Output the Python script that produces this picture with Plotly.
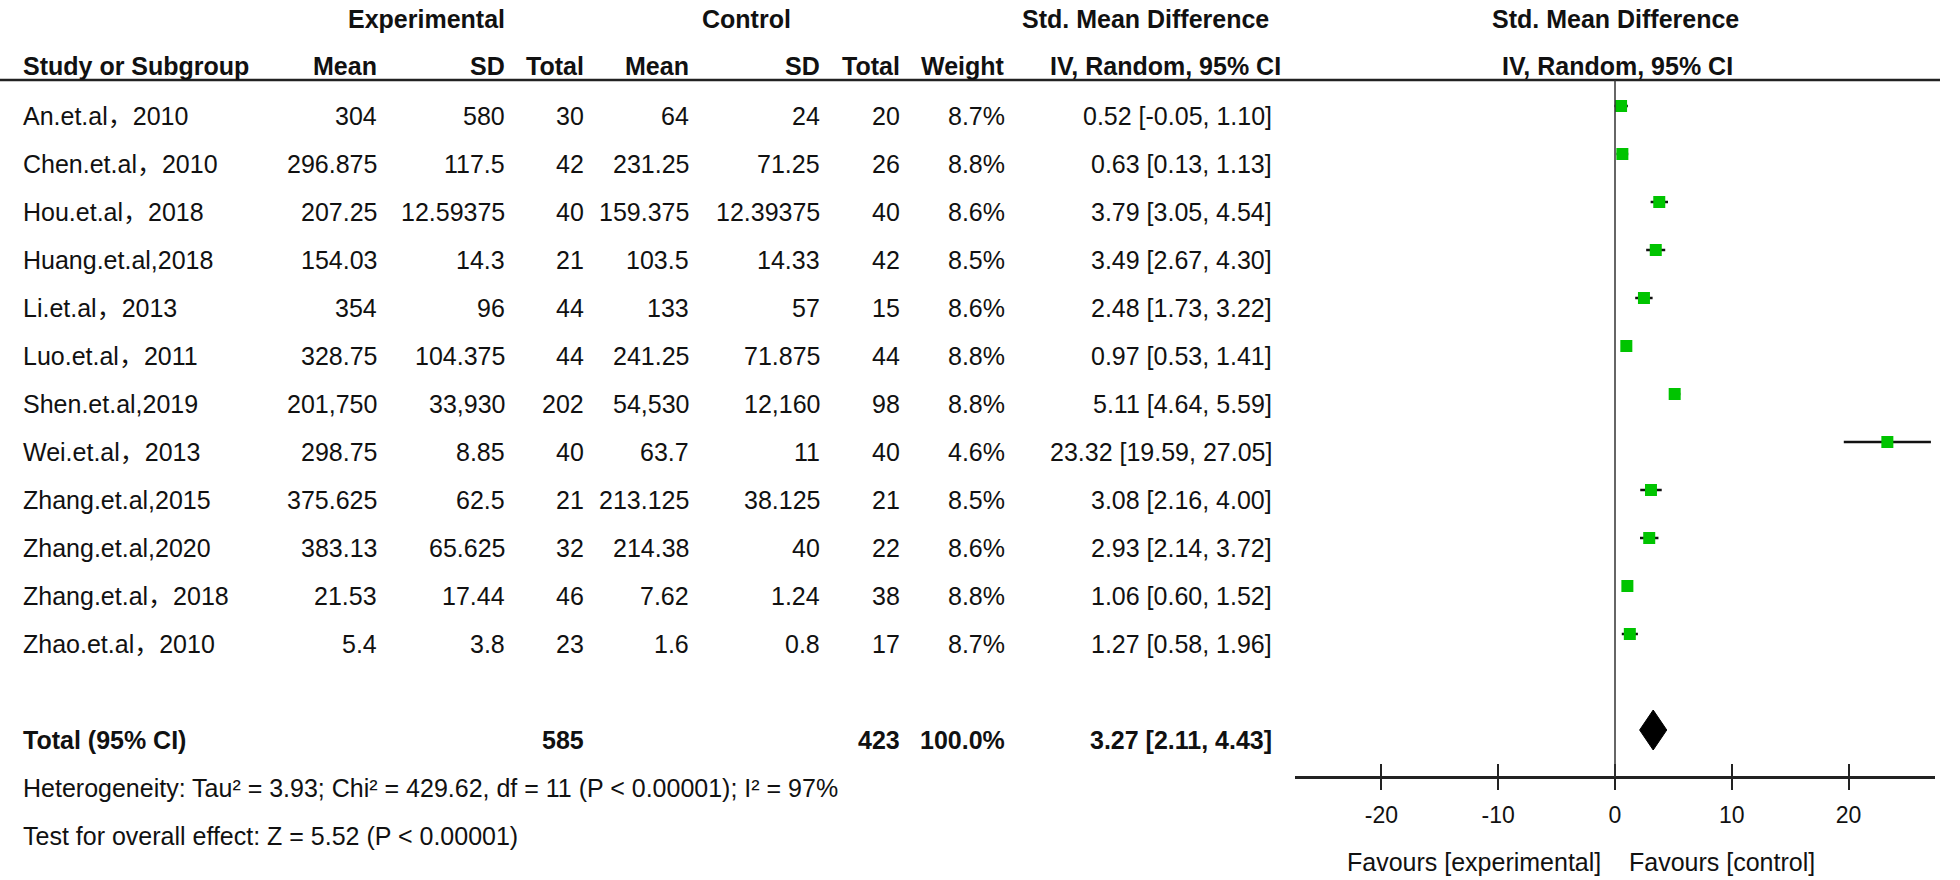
import plotly.graph_objects as go

# ---------------- data ----------------
studies = ["An.et.al，2010", "Chen.et.al，2010", "Hou.et.al，2018", "Huang.et.al,2018",
           "Li.et.al，2013", "Luo.et.al，2011", "Shen.et.al,2019", "Wei.et.al，2013",
           "Zhang.et.al,2015", "Zhang.et.al,2020", "Zhang.et.al，2018", "Zhao.et.al，2010"]
exp_mean = ["304", "296.875", "207.25", "154.03", "354", "328.75", "201,750", "298.75",
            "375.625", "383.13", "21.53", "5.4"]
exp_sd = ["580", "117.5", "12.59375", "14.3", "96", "104.375", "33,930", "8.85",
          "62.5", "65.625", "17.44", "3.8"]
exp_n = [30, 42, 40, 21, 44, 44, 202, 40, 21, 32, 46, 23]
ctrl_mean = ["64", "231.25", "159.375", "103.5", "133", "241.25", "54,530", "63.7",
             "213.125", "214.38", "7.62", "1.6"]
ctrl_sd = ["24", "71.25", "12.39375", "14.33", "57", "71.875", "12,160", "11",
           "38.125", "40", "1.24", "0.8"]
ctrl_n = [20, 26, 40, 42, 15, 44, 98, 40, 21, 22, 38, 17]
weight = [8.7, 8.8, 8.6, 8.5, 8.6, 8.8, 8.8, 4.6, 8.5, 8.6, 8.8, 8.7]
smd = [0.52, 0.63, 3.79, 3.49, 2.48, 0.97, 5.11, 23.32, 3.08, 2.93, 1.06, 1.27]
ci_lo = [-0.05, 0.13, 3.05, 2.67, 1.73, 0.53, 4.64, 19.59, 2.16, 2.14, 0.60, 0.58]
ci_hi = [1.10, 1.13, 4.54, 4.30, 3.22, 1.41, 5.59, 27.05, 4.00, 3.72, 1.52, 1.96]

total_exp_n = 585
total_ctrl_n = 423
total_weight = 100.0
total_smd = 3.27
total_lo = 2.11
total_hi = 4.43

heterogeneity = "Heterogeneity: Tau² = 3.93; Chi² = 429.62, df = 11 (P < 0.00001); I² = 97%"
overall = "Test for overall effect: Z = 5.52 (P < 0.00001)"

tick_vals = [-20, -10, 0, 10, 20]
tick_text = ["-20", "-10", "0", "10", "20"]

# ---------------- layout helpers ----------------
W, H = 1960, 880
FONT = "Liberation Sans, Arial, Noto Sans CJK SC, sans-serif"
FS = 25
TXT = "#111111"

ROW0_PX = 106.0     # pixel y of first marker row
ROW_H = 48.0        # row spacing in px
TEXT_SHIFT = -10    # text sits slightly below marker centres

n = len(studies)
rows = list(range(n))
total_row = n + 1
het_row = n + 2
test_row = n + 3

def px(x):
    return x / W

def py(y):
    return 1 - y / H

fig = go.Figure()

# CI lines + squares
fig.add_trace(go.Scatter(
    x=smd, y=rows, mode="markers",
    marker=dict(symbol="square", size=12, color="#00c400", line=dict(width=0)),
    error_x=dict(type="data", symmetric=False,
                 array=[h - m for h, m in zip(ci_hi, smd)],
                 arrayminus=[m - l for m, l in zip(smd, ci_lo)],
                 color="#111111", thickness=2.5, width=0),
    hoverinfo="skip", showlegend=False))

# pooled diamond
dh = 20.0 / ROW_H
fig.add_trace(go.Scatter(
    x=[total_lo, total_smd, total_hi, total_smd, total_lo],
    y=[total_row, total_row - dh, total_row, total_row + dh, total_row],
    mode="lines", fill="toself", fillcolor="#000000",
    line=dict(color="#000000", width=1), hoverinfo="skip", showlegend=False))

annotations = []

def cell(text, xpix, row, anchor="right", bold=False, size=FS):
    t = f"<b>{text}</b>" if bold else text
    annotations.append(dict(
        text=t, x=px(xpix), xref="paper", y=row, yref="y",
        xanchor=anchor, yanchor="middle", yshift=TEXT_SHIFT,
        showarrow=False, borderpad=0,
        font=dict(family=FONT, size=size, color=TXT)))

def header(text, xpix, ypix, anchor="center"):
    annotations.append(dict(
        text=f"<b>{text}</b>", x=px(xpix), xref="paper", y=py(ypix), yref="paper",
        xanchor=anchor, yanchor="middle", showarrow=False, borderpad=0,
        font=dict(family=FONT, size=FS, color=TXT)))

# column right edges (px)
C_STUDY = 22
C_EM, C_ESD, C_EN = 378, 506, 585
C_CM, C_CSD, C_CN = 690, 821, 901
C_W = 1006
C_CI = 1273

# headers
header("Experimental", 426, 19)
header("Control", 746, 19)
header("Std. Mean Difference", 1145, 19)
header("Std. Mean Difference", 1615, 19)
header("Study or Subgroup", C_STUDY, 66, "left")
header("Mean", C_EM, 66, "right")
header("SD", C_ESD, 66, "right")
header("Total", C_EN, 66, "right")
header("Mean", C_CM, 66, "right")
header("SD", C_CSD, 66, "right")
header("Total", C_CN, 66, "right")
header("Weight", C_W, 66, "right")
header("IV, Random, 95% CI", 1165, 66)
header("IV, Random, 95% CI", 1617, 66)

for i in range(n):
    cell(studies[i], C_STUDY, rows[i], "left")
    cell(exp_mean[i], C_EM, rows[i])
    cell(exp_sd[i], C_ESD, rows[i])
    cell(str(exp_n[i]), C_EN, rows[i])
    cell(ctrl_mean[i], C_CM, rows[i])
    cell(ctrl_sd[i], C_CSD, rows[i])
    cell(str(ctrl_n[i]), C_CN, rows[i])
    cell(f"{weight[i]:.1f}%", C_W, rows[i])
    cell(f"{smd[i]:.2f} [{ci_lo[i]:.2f}, {ci_hi[i]:.2f}]", C_CI, rows[i])

cell("Total (95% CI)", C_STUDY, total_row, "left", bold=True)
cell(str(total_exp_n), C_EN, total_row, bold=True)
cell(str(total_ctrl_n), C_CN, total_row, bold=True)
cell(f"{total_weight:.1f}%", C_W, total_row, bold=True)
cell(f"{total_smd:.2f} [{total_lo:.2f}, {total_hi:.2f}]", C_CI, total_row, bold=True)
cell(heterogeneity, C_STUDY, het_row, "left")
cell(overall, C_STUDY, test_row, "left")

AXIS_PX = 777
FAV_PX = 862
annotations.append(dict(text="Favours [experimental]", x=0, xref="x", xshift=-13,
                        y=py(FAV_PX), yref="paper", xanchor="right", yanchor="middle",
                        showarrow=False, borderpad=0,
                        font=dict(family=FONT, size=FS, color=TXT)))
annotations.append(dict(text="Favours [control]", x=0, xref="x", xshift=13,
                        y=py(FAV_PX), yref="paper", xanchor="left", yanchor="middle",
                        showarrow=False, borderpad=0,
                        font=dict(family=FONT, size=FS, color=TXT)))

shapes = [
    # header rule
    dict(type="line", xref="paper", yref="paper", x0=0, x1=px(1940),
         y0=py(80), y1=py(80), line=dict(color="#222222", width=2.5)),
    # line of no effect
    dict(type="line", xref="x", yref="paper", x0=0, x1=0,
         y0=py(AXIS_PX), y1=py(80), line=dict(color="#333333", width=1.5)),
]

x_dom = [px(1295), px(1935)]
fig.update_layout(
    width=W, height=H,
    margin=dict(l=0, r=0, t=0, b=0),
    paper_bgcolor="white", plot_bgcolor="rgba(0,0,0,0)",
    font=dict(family=FONT, size=FS, color=TXT),
    xaxis=dict(domain=x_dom, range=[-27.4, 27.4], anchor="free", position=py(AXIS_PX),
               showline=True, linecolor="#222222", linewidth=2.5,
               tickmode="array", tickvals=tick_vals, ticktext=tick_text,
               ticks="outside", ticklen=11, tickwidth=2, tickcolor="#222222",
               tickfont=dict(family=FONT, size=23, color=TXT),
               ticklabelstandoff=6,
               showgrid=False, zeroline=False, fixedrange=True),
    xaxis2=dict(domain=x_dom, range=[-27.4, 27.4], anchor="free", position=py(AXIS_PX),
                overlaying="x", matches="x",
                showline=False, tickmode="array", tickvals=tick_vals,
                ticks="inside", ticklen=13, tickwidth=2, tickcolor="#222222",
                showticklabels=False, showgrid=False, zeroline=False),
    yaxis=dict(domain=[0, 1],
               range=[(H - ROW0_PX) / ROW_H, -ROW0_PX / ROW_H],
               visible=False, fixedrange=True),
    annotations=annotations,
    shapes=shapes,
    showlegend=False,
)

# invisible trace so the overlay axis (upward tick halves) is drawn
fig.add_trace(go.Scatter(x=[0], y=[0], xaxis="x2", yaxis="y", mode="markers",
                         marker=dict(opacity=0), hoverinfo="skip", showlegend=False))

fig.write_html("out.html", config={"displayModeBar": False},
               post_script="document.body.style.margin='0';document.body.style.overflow='hidden';")
